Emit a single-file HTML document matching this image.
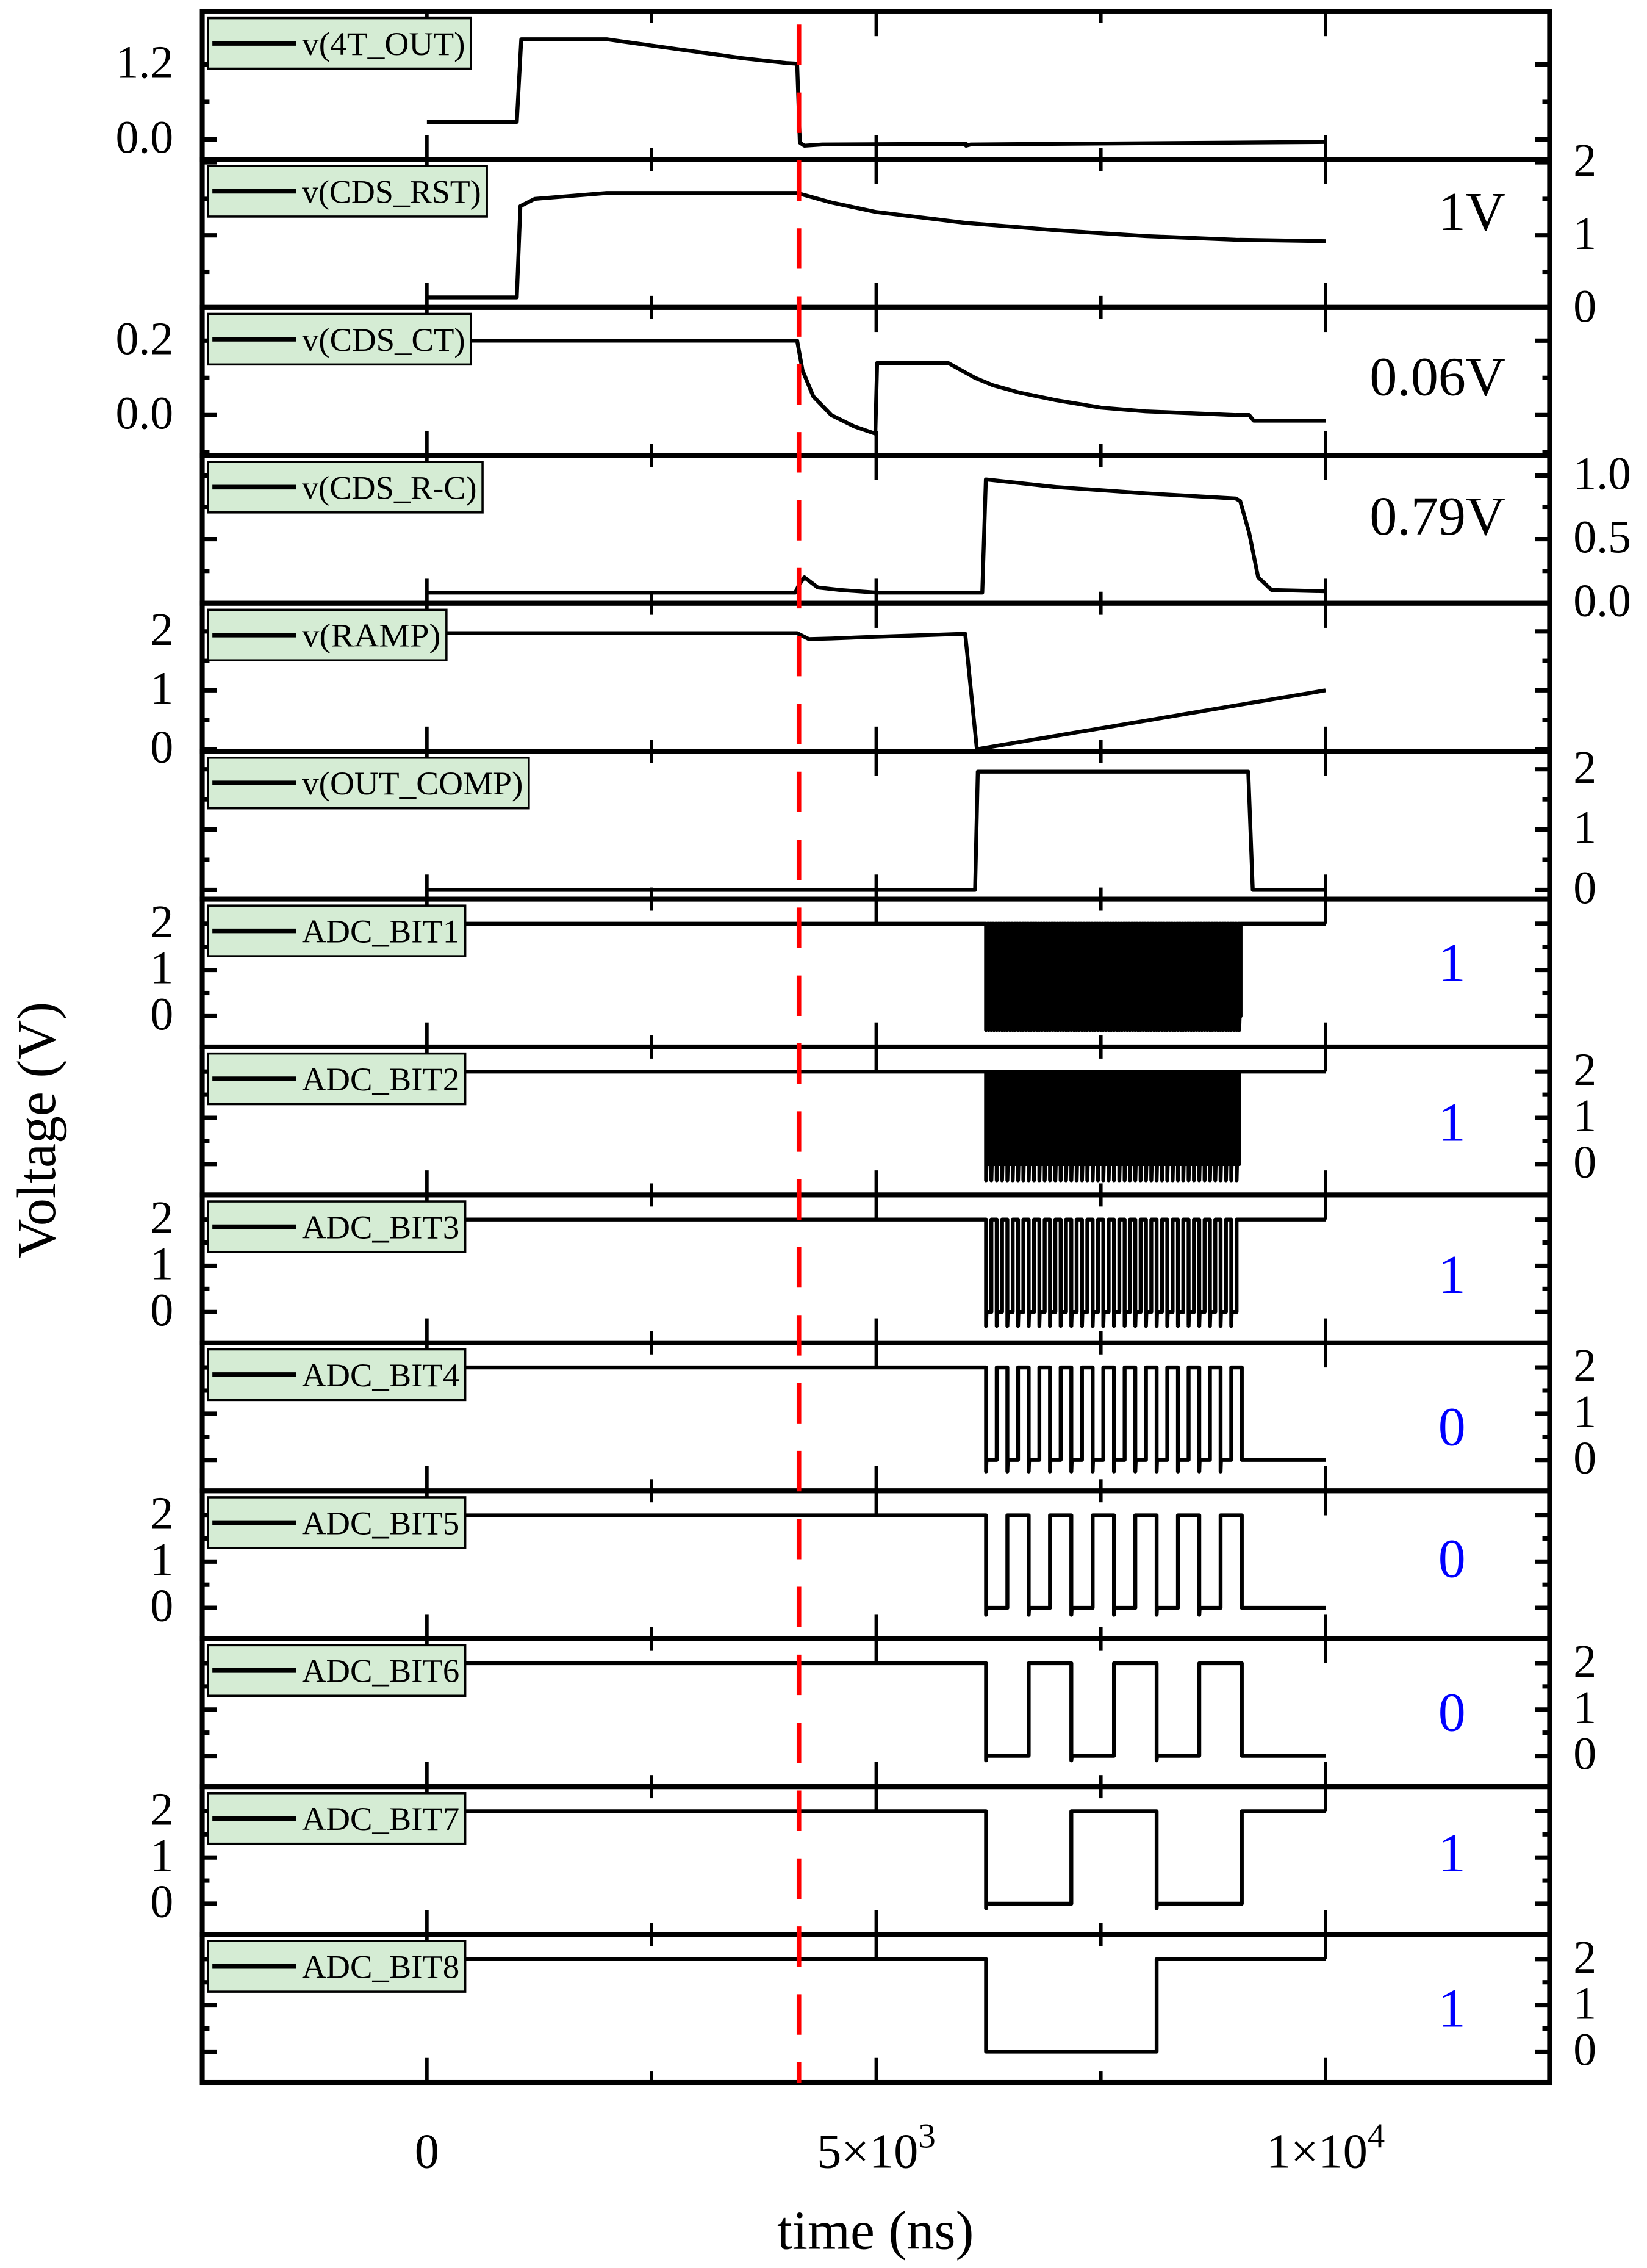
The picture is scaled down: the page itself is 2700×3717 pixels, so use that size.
<!DOCTYPE html>
<html><head><meta charset="utf-8"><style>
html,body{margin:0;padding:0;background:#fff;}
svg{display:block;}
</style></head><body>
<svg id="chart" xmlns="http://www.w3.org/2000/svg" width="2700" height="3717" viewBox="0 0 1140 1569.4" preserveAspectRatio="none" font-family="'Liberation Serif', serif"></svg>
<script>
// ---- data ----
const panelNames = ["v(4T_OUT)","v(CDS_RST)","v(CDS_CT)","v(CDS_R-C)","v(RAMP)","v(OUT_COMP)","ADC_BIT1","ADC_BIT2","ADC_BIT3","ADC_BIT4","ADC_BIT5","ADC_BIT6","ADC_BIT7","ADC_BIT8"];
const xTickValues = [0, 5000, 10000];
const xTickLabels = ["0", "5×10", "1×10"];
const xTickExps = ["", "3", "4"];
const markerTimeNs = 4140;
// analog series: [time ns, volts]
const sig4T = [[0,0.28],[1000,0.28],[1050,1.6],[2000,1.6],[2500,1.5],[3000,1.4],[3500,1.3],[4000,1.22],[4120,1.21],[4150,-0.05],[4200,-0.1],[4400,-0.08],[6000,-0.07],[6000,-0.1],[6050,-0.08],[10000,-0.04]];
const sigRST = [[0,0.15],[1000,0.15],[1040,1.4],[1200,1.5],[2000,1.58],[4120,1.58],[4500,1.45],[5000,1.32],[6000,1.17],[7000,1.07],[8000,0.99],[9000,0.94],[10000,0.92]];
const sigCT = [[-2400,0.2],[4120,0.2],[4180,0.12],[4300,0.05],[4500,0.0],[4750,-0.03],[4990,-0.05],[5010,0.14],[5800,0.14],[5950,0.12],[6100,0.1],[6300,0.08],[6600,0.06],[7000,0.04],[7500,0.02],[8000,0.01],[9000,0.0],[9150,0.0],[9200,-0.015],[10000,-0.015]];
const sigRC = [[0,0.08],[4100,0.08],[4140,0.14],[4200,0.2],[4350,0.12],[4600,0.1],[5000,0.08],[6180,0.08],[6220,0.97],[7000,0.91],[8000,0.86],[9000,0.82],[9050,0.8],[9150,0.55],[9250,0.2],[9400,0.1],[10000,0.09]];
const sigRAMP = [[-2400,1.97],[4120,1.97],[4250,1.87],[4500,1.88],[5000,1.91],[5990,1.96],[6120,0.0],[10000,1.0]];
const sigCOMP = [[0,0],[6100,0],[6130,1.96],[9140,1.96],[9190,0],[10000,0]];
// ADC counter
const adcStartNs = 6222;
const adcStopNs = 9068;
const adcLsbNs = 14.83;
const adcFinalBits = [1,1,1,0,0,0,1,1];
const adcLowDip = [-0.3,-0.35,-0.3,-0.25,-0.15,-0.1,-0.1,0];
const annotations = ["","1V","0.06V","0.79V","","","1","1","1","0","0","0","1","1"];

// ---- layout (not data) ----
const X0 = 140, X1 = 1072.6, T0 = 8, PH = 102.36;
function xs(t){ return 295.5 + t * (917.5 - 295.5) / 10000; }
const axes = [
 {a:[1.2,36.5,0,88.5], major:[1.2,0], minor:[0.6,-0.6], labels:["1.2","0.0"], side:"L"},
 {a:[2,2,0,103], major:[2,1,0], minor:[1.5,0.5], labels:["2","1","0"], side:"R"},
 {a:[0.2,23,0,74.5], major:[0.2,0], minor:[0.1,-0.1], labels:["0.2","0.0"], side:"L"},
 {a:[1,14,0,102], major:[1,0.5,0], minor:[0.75,0.25], labels:["1.0","0.5","0.0"], side:"R"},
 {a:[2,19.5,0,101], major:[2,1,0], minor:[1.5,0.5], labels:["2","1","0"], side:"L"},
 {a:[2,12.5,0,96], major:[2,1,0], minor:[1.5,0.5], labels:["2","1","0"], side:"R"}
];
for(let i=6;i<14;i++) axes.push({a:[2,17,0,81], major:[2,1,0], minor:[1.5,0.5], labels:["2","1","0"], side: i%2===0?"L":"R"});
const legendW = [182,193,182,190,165,222,178,178,178,178,178,178,178,178];
const annotOff = [0,40,52,46,0,0,48,56,59,62,51,55,50,55];

const NS = "http://www.w3.org/2000/svg";
const svg = document.getElementById("chart");
function el(tag, attrs, parent){ const e=document.createElementNS(NS,tag); for(const k in attrs) e.setAttribute(k,attrs[k]); (parent||svg).appendChild(e); return e; }

function adcSeries(bitIdx){
  const pts=[[-1450,2]];
  const n = Math.round((adcStopNs-adcStartNs)/adcLsbNs);
  const period = Math.pow(2,bitIdx);
  pts.push([adcStartNs,2]);
  let prev = 1;
  for(let c=0;c<n;c++){
    const b = Math.floor(c/period)%2;
    if(b!==prev){
      const t = adcStartNs + c*adcLsbNs;
      const v = b? 2 : adcLowDip[bitIdx];
      const pv = prev? 2 : 0;
      pts.push([t,pv]); pts.push([t,v]);
      if(!b) pts.push([t+adcLsbNs*0.3,0]);
      prev=b;
    }
  }
  const fv = adcFinalBits[bitIdx]?2:0;
  pts.push([adcStopNs, prev?2:0]); pts.push([adcStopNs, fv]); pts.push([10000, fv]);
  return pts;
}
const series = [sig4T,sigRST,sigCT,sigRC,sigRAMP,sigCOMP];
for(let b=0;b<8;b++) series.push(adcSeries(b));

for(let i=0;i<14;i++){
  const top = T0 + i*PH, bot = top+PH;
  const g = el("g",{});
  
  
  const ax = axes[i];
  const ys = v => top + ax.a[1] + (v-ax.a[0])*(ax.a[3]-ax.a[1])/(ax.a[2]-ax.a[0]);
  const cid = "clip"+i;
  const cp = el("clipPath",{id:cid},g); el("rect",{x:X0,y:top,width:X1-X0,height:PH},cp);
  const tk = (v,len)=>{ const y=ys(v); if(y<=top+1||y>=bot-1) return;
    const l=el("line",{x1:X0,x2:X0+len,y1:y,y2:y,stroke:"#000","stroke-width":3},g);
     
    const r=el("line",{x1:X1-len,x2:X1,y1:y,y2:y,stroke:"#000","stroke-width":3},g);
      };
  ax.major.forEach(v=>tk(v,10)); ax.minor.forEach(v=>tk(v,5));
  ax.major.forEach((v,k)=>{ const y=ys(v);
    const t=el("text",{x: ax.side==="L"? 120 : 1089, y:y+2, "font-size":32, "text-anchor": ax.side==="L"?"end":"start", "dominant-baseline":"middle"},g);
    t.textContent = ax.labels[k];
      });
  [0,2500,5000,7500,10000].forEach((tv,k)=>{ const x=xs(tv); const len = k%2===0?17:8;
    const a=el("line",{x1:x,x2:x,y1:bot,y2:bot-len,stroke:"#000","stroke-width":2.4},g);
     
    const b2=el("line",{x1:x,x2:x,y1:top,y2:top+len,stroke:"#000","stroke-width":2.4},g);
      });
  const d = series[i].map((p,k)=>(k?"L":"M")+xs(p[0]).toFixed(2)+","+ys(p[1]).toFixed(2)).join("");
  const path = el("path",{d:d,fill:"none",stroke:"#000","stroke-width":2.7,"stroke-linejoin":"round","clip-path":"url(#"+cid+")"},g);
  
  
  const lg = el("g",{},g);
  
  
  el("rect",{x:144,y:top+4.5,width:legendW[i],height:35,fill:"#d5ecd4",stroke:"#000","stroke-width":1.5},lg);
  el("line",{x1:147,x2:205,y1:top+22,y2:top+22,stroke:"#000","stroke-width":3.2},lg);
  const lt = el("text",{x:209,y:top+30,"font-size":23,textLength:legendW[i]-69,lengthAdjust:"spacingAndGlyphs"},lg);
  lt.textContent = panelNames[i];
  if(annotations[i]){
    const blue = i>=6;
    const at = el("text",{x: blue?1005:1042, y: top + annotOff[i], "font-size":38, "text-anchor": blue?"middle":"end", fill: blue?"#0000ff":"#000", "dominant-baseline":"middle"},g);
    at.textContent = annotations[i];
    
    
  }
  const fr = el("rect",{x:X0,y:top,width:X1-X0,height:PH,fill:"none",stroke:"#000","stroke-width":3.4},g);
   
}
const ml = el("line",{x1:xs(markerTimeNs),x2:xs(markerTimeNs),y1:17,y2:T0+14*PH,stroke:"#ff0000","stroke-width":3.2,"stroke-dasharray":"28 19"});


xTickValues.forEach((v,k)=>{
  const t=el("text",{x:xs(v),y:1500,"font-size":34,"text-anchor":"middle"});
  t.textContent = xTickLabels[k];
  if(xTickExps[k]){ const s=el("tspan",{dy:-14,"font-size":24},t); s.textContent=xTickExps[k]; }
   
});
const xt = el("text",{x:606,y:1556,"font-size":38,"text-anchor":"middle"}); xt.textContent="time (ns)";
 
const yt = el("text",{x:38,y:782,"font-size":38,"text-anchor":"middle",transform:"rotate(-90 38 782)"}); yt.textContent="Voltage (V)";
 
</script>
</body></html>
